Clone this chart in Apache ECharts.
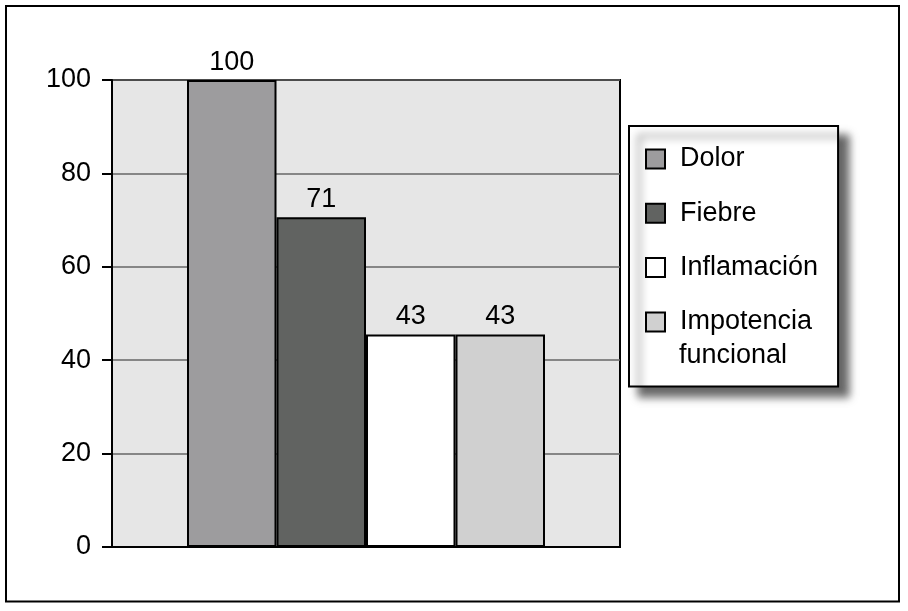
<!DOCTYPE html>
<html>
<head>
<meta charset="utf-8">
<script src="https://cdn.jsdelivr.net/npm/echarts@6/dist/echarts.min.js"></script>
<style>
html,body{margin:0;padding:0;background:#fff;}
#chart{width:908px;height:611px;}
</style>
</head>
<body>
<div id="chart"></div>
<script>
const seriesNames = ['Dolor', 'Fiebre', 'Inflamación', 'Impotencia funcional'];
const barHeights = [100, 70.6, 45.5, 45.5];
const valueLabels = ['100', '71', '43', '43'];
const seriesColors = ['#9d9c9e', '#616361', '#ffffff', '#d0d0d0'];
const yMin = 0, yMax = 100, yStep = 20;

const FONT = 'Liberation Sans, Arial, Helvetica, sans-serif';
const FS = 27;

const chart = echarts.init(document.getElementById('chart'), null, {renderer: 'canvas'});

const series = seriesNames.map((name, i) => ({
  name: name,
  type: 'bar',
  data: [barHeights[i]],
  barWidth: 89.5,
  barGap: '0%',
  itemStyle: {color: seriesColors[i], borderColor: '#000', borderWidth: 2},
  label: {
    show: true,
    position: 'top',
    distance: 4,
    color: '#000',
    fontFamily: FONT,
    fontSize: FS,
    formatter: () => valueLabels[i]
  },
  emphasis: {disabled: true}
}));

chart.setOption({
  animation: false,
  backgroundColor: '#fff',
  grid: {
    left: 112, top: 80, right: 288, bottom: 64,
    show: true, backgroundColor: '#e6e6e6', borderColor: '#000', borderWidth: 2
  },
  xAxis: {
    type: 'category',
    data: [''],
    axisLine: {show: true, lineStyle: {color: '#000', width: 2}},
    axisTick: {show: false},
    axisLabel: {show: false},
    splitLine: {show: false}
  },
  yAxis: {
    type: 'value',
    min: yMin, max: yMax, interval: yStep,
    axisLine: {show: true, lineStyle: {color: '#000', width: 2}},
    axisTick: {show: true, inside: false, length: 10, lineStyle: {color: '#000', width: 2}},
    axisLabel: {margin: 21, color: '#000', fontFamily: FONT, fontSize: FS},
    splitLine: {show: true, lineStyle: {color: '#666', width: 1.5}}
  },
  legend: {
    orient: 'vertical',
    left: 629, top: 126,
    padding: [19.5, 20, 51, 16],
    itemWidth: 19, itemHeight: 19,
    itemGap: 27.3,
    icon: 'rect',
    backgroundColor: '#fff',
    borderColor: '#000', borderWidth: 2,
    shadowColor: 'rgba(0,0,0,0.6)', shadowBlur: 8, shadowOffsetX: 10, shadowOffsetY: 10,
    selectedMode: false,
    itemStyle: {borderColor: '#000', borderWidth: 2},
    textStyle: {color: '#000', fontFamily: FONT, fontSize: FS, lineHeight: 27, padding: [0, 0, 0, 10]},
    formatter: (name) => name === 'Impotencia funcional' ? 'Impotencia' : name,
    data: seriesNames
  },
  graphic: [
    {type: 'rect', z: -1, shape: {x: 6, y: 6, width: 893, height: 595.5}, style: {fill: 'none', stroke: '#000', lineWidth: 2}},
    {type: 'text', z: 100, left: 679, top: 342, style: {text: 'funcional', fill: '#000', font: FS + 'px ' + FONT}}
  ],
  series: series
});
</script>
</body>
</html>
